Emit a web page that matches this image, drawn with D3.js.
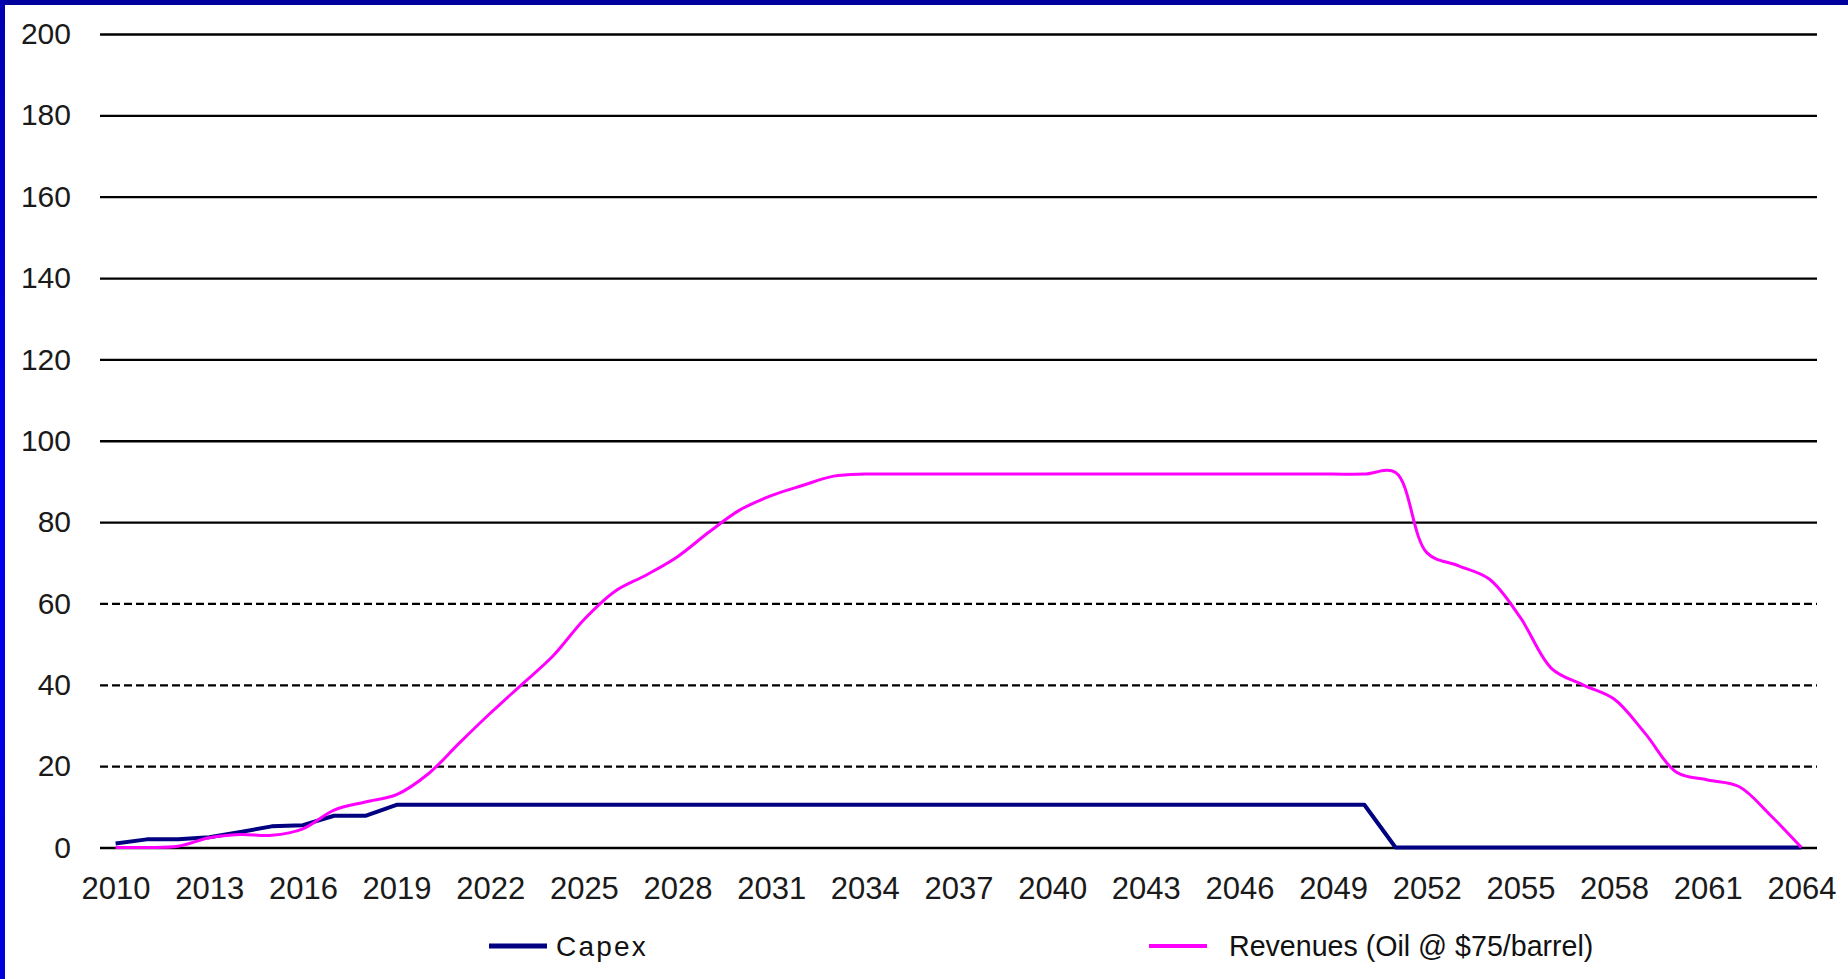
<!DOCTYPE html>
<html>
<head>
<meta charset="utf-8">
<script src="https://cdn.jsdelivr.net/npm/d3@7"></script>
<style>
  html, body { margin: 0; padding: 0; background: #fff; }
  svg { display: block; font-family: Arial, "Liberation Sans", sans-serif; }
</style>
</head>
<body>
<script>
const years = [
  2010, 2011, 2012, 2013, 2014, 2015, 2016, 2017, 2018, 2019,
  2020, 2021, 2022, 2023, 2024, 2025, 2026, 2027, 2028, 2029,
  2030, 2031, 2032, 2033, 2034, 2035, 2036, 2037, 2038, 2039,
  2040, 2041, 2042, 2043, 2044, 2045, 2046, 2047, 2048, 2049,
  2050, 2051, 2052, 2053, 2054, 2055, 2056, 2057, 2058, 2059,
  2060, 2061, 2062, 2063, 2064
];

const capex = [
  1, 2, 2, 2.5, 3.8, 5.2, 5.5, 7.8, 7.8, 10.5,
  10.5, 10.5, 10.5, 10.5, 10.5, 10.5, 10.5, 10.5, 10.5, 10.5,
  10.5, 10.5, 10.5, 10.5, 10.5, 10.5, 10.5, 10.5, 10.5, 10.5,
  10.5, 10.5, 10.5, 10.5, 10.5, 10.5, 10.5, 10.5, 10.5, 10.5,
  10.5, 0, 0, 0, 0, 0, 0, 0, 0, 0,
  0, 0, 0, 0, 0
];

const revenues = [
  0, 0, 0.3, 2.4, 3.2, 3.0, 4.6, 9.2, 11.2, 13,
  18, 25.6, 33, 40, 47, 56, 63, 67, 71.5, 77.5,
  83, 86.5, 89, 91.3, 91.8, 91.8, 91.8, 91.8, 91.8, 91.8,
  91.8, 91.8, 91.8, 91.8, 91.8, 91.8, 91.8, 91.8, 91.8, 91.8,
  91.8, 92.2, 72.5, 69.3, 66, 56.5, 44, 40, 36.5, 28,
  18.5, 16.6, 15, 8, 0
];

const yTicks = [0, 20, 40, 60, 80, 100, 120, 140, 160, 180, 200];
const dashedTicks = [20, 40, 60];
const xTicks = [2010, 2013, 2016, 2019, 2022, 2025, 2028, 2031, 2034, 2037,
  2040, 2043, 2046, 2049, 2052, 2055, 2058, 2061, 2064];

const legendItems = [
  { name: 'Capex', color: '#000080', width: 4, spacing: 2.2 },
  { name: 'Revenues (Oil @ $75/barrel)', color: '#ff00ff', width: 3, spacing: 0 }
];

const W = 1848, H = 979;
const left = 100, right = 1817;

const svg = d3.select('body').append('svg')
  .attr('width', W)
  .attr('height', H);

svg.append('rect').attr('width', W).attr('height', H).attr('fill', '#fff');

// frame: dark blue top, brighter blue left edge
svg.append('rect').attr('x', 0).attr('y', 0).attr('width', W).attr('height', 5).attr('fill', '#00009c');
const grad = svg.append('defs').append('linearGradient')
  .attr('id', 'edge').attr('x1', 0).attr('y1', 0).attr('x2', 0).attr('y2', 1);
grad.append('stop').attr('offset', '0%').attr('stop-color', '#0000b0');
grad.append('stop').attr('offset', '50%').attr('stop-color', '#0000f0');
grad.append('stop').attr('offset', '100%').attr('stop-color', '#0000d8');
svg.append('rect').attr('x', 0).attr('y', 0).attr('width', 5).attr('height', H).attr('fill', 'url(#edge)');

const x = d3.scalePoint()
  .domain(years)
  .range([left, right])
  .padding(0.5);

const y = d3.scaleLinear()
  .domain([0, 200])
  .range([847.5, 34]);

// y axis with full-width grid lines
const yAxis = svg.append('g')
  .attr('transform', `translate(${left}, 0)`)
  .call(d3.axisLeft(y).tickValues(yTicks).tickSize(-(right - left)).tickPadding(29));
yAxis.select('.domain').remove();
yAxis.selectAll('line')
  .attr('stroke', '#000')
  .attr('stroke-width', 2.3)
  .attr('stroke-dasharray', (d) => dashedTicks.includes(d) ? '8,4' : null);
yAxis.selectAll('text')
  .attr('font-size', 30)
  .attr('fill', '#1a1a1a');

// x axis labels
const xAxis = svg.append('g')
  .attr('transform', `translate(0, ${y(0)})`)
  .call(d3.axisBottom(x).tickValues(xTicks).tickSize(0).tickPadding(29));
xAxis.select('.domain').remove();
xAxis.selectAll('text')
  .attr('font-size', 31)
  .attr('fill', '#1a1a1a');

const straight = d3.line()
  .x((d, i) => x(years[i]))
  .y((d) => y(d));

const smooth = d3.line()
  .x((d, i) => x(years[i]))
  .y((d) => y(d))
  .curve(d3.curveCatmullRom.alpha(0.5));

svg.append('path')
  .attr('d', straight(capex))
  .attr('fill', 'none')
  .attr('stroke', legendItems[0].color)
  .attr('stroke-width', legendItems[0].width)
  .attr('stroke-linejoin', 'round');

svg.append('path')
  .attr('d', smooth(revenues))
  .attr('fill', 'none')
  .attr('stroke', legendItems[1].color)
  .attr('stroke-width', legendItems[1].width)
  .attr('stroke-linejoin', 'round');

// legend
const legendX = [489, 1149];
const legend = svg.append('g').attr('transform', 'translate(0, 946)');
legendItems.forEach((item, i) => {
  const g = legend.append('g').attr('transform', `translate(${legendX[i]}, 0)`);
  g.append('line')
    .attr('x1', 0).attr('x2', 58)
    .attr('stroke', item.color)
    .attr('stroke-width', item.width + 1);
  g.append('text')
    .attr('x', i === 0 ? 67 : 80)
    .attr('dy', '0.35em')
    .attr('font-size', i === 0 ? 28 : 28.6)
    .attr('letter-spacing', item.spacing)
    .attr('fill', '#111')
    .text(item.name);
});
</script>
</body>
</html>
